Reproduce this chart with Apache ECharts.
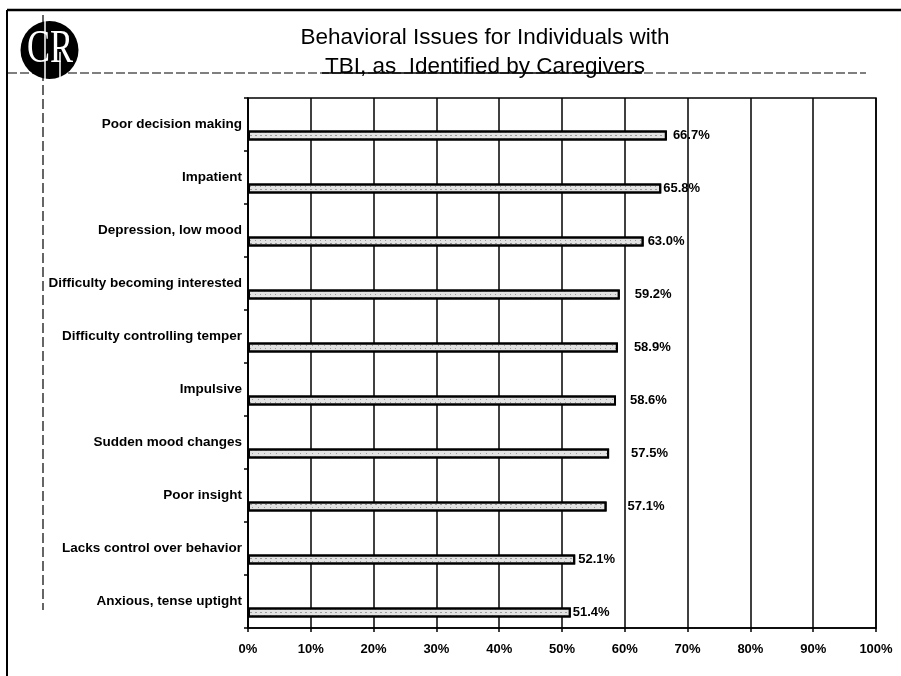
<!DOCTYPE html>
<html>
<head>
<meta charset="utf-8">
<title>Behavioral Issues for Individuals with TBI</title>
<script src="https://cdn.jsdelivr.net/npm/echarts@6/dist/echarts.min.js"></script>
<style>
  html, body { margin: 0; padding: 0; background: #ffffff; }
  #chart { width: 901px; height: 676px; }
</style>
</head>
<body>
<div id="chart"></div>
<script>
// Behaviours reported by caregivers, listed top to bottom
const categories = [
  'Poor decision making',
  'Impatient',
  'Depression, low mood',
  'Difficulty becoming interested',
  'Difficulty controlling temper',
  'Impulsive',
  'Sudden mood changes',
  'Poor insight',
  'Lacks control over behavior',
  'Anxious, tense uptight'
];

// Share of caregivers reporting each behaviour (%)
const percentages = [66.7, 65.8, 63.0, 59.2, 58.9, 58.6, 57.5, 57.1, 52.1, 51.4];

// Percentage scale shown along the bottom
const xMin = 0;
const xMax = 100;
const xStep = 10;

// Horizontal gap between each bar end and its value label (px)
const labelGap = [6, 2, 4, 15, 16, 14, 22, 21, 3, 2];

const FONT = '"Liberation Sans", Arial, Helvetica, sans-serif';
const SERIF = '"Liberation Serif", "DejaVu Serif", serif';

const chart = echarts.init(document.getElementById('chart'), null, { renderer: 'canvas' });

const option = {
  backgroundColor: '#ffffff',
  animation: false,
  title: {
    text: 'Behavioral Issues for Individuals with\nTBI, as  Identified by Caregivers',
    left: 480,
    top: 18,
    textAlign: 'center',
    textStyle: {
      fontFamily: FONT,
      fontWeight: 'normal',
      fontSize: 22.5,
      lineHeight: 29,
      color: '#000000'
    }
  },
  grid: {
    left: 248,
    right: 25,
    top: 98,
    bottom: 48,
    show: true,
    borderColor: '#000000',
    borderWidth: 1.5,
    backgroundColor: 'transparent'
  },
  xAxis: {
    type: 'value',
    min: xMin,
    max: xMax,
    interval: xStep,
    axisLine: { show: true, lineStyle: { color: '#000000', width: 1.5 } },
    axisTick: { show: true, length: 4, lineStyle: { color: '#000000', width: 1.5 } },
    splitLine: { show: true, lineStyle: { color: '#000000', width: 1.5 } },
    axisLabel: {
      margin: 15,
      formatter: '{value}%',
      fontFamily: FONT,
      fontWeight: 'bold',
      fontSize: 13,
      color: '#000000'
    }
  },
  yAxis: {
    type: 'category',
    inverse: true,
    data: categories,
    axisLine: { show: true, lineStyle: { color: '#000000', width: 1.5 } },
    axisTick: { show: true, length: 4, lineStyle: { color: '#000000', width: 1.5 } },
    splitLine: { show: false },
    axisLabel: {
      margin: 6,
      fontFamily: FONT,
      fontWeight: 'bold',
      fontSize: 13.5,
      color: '#000000'
    }
  },
  series: [
    {
      // empty slot that pushes each bar below its label
      type: 'bar',
      name: 'spacer',
      data: categories.map(() => 0),
      barWidth: 10,
      barGap: '120%',
      silent: true,
      itemStyle: { color: 'transparent' },
      label: { show: false }
    },
    {
      type: 'bar',
      name: 'Caregivers reporting',
      barWidth: 10,
      data: percentages.map((v, i) => ({ value: v, label: { distance: labelGap[i] } })),
      itemStyle: {
        color: '#e2e2e2',
        borderColor: '#000000',
        borderWidth: 2,
        // fine stipple inside each bar
        decal: {
          symbol: 'rect',
          symbolSize: 1,
          color: 'rgba(70, 70, 70, 0.45)',
          dashArrayX: [[1, 4], [2, 3], [1, 5]],
          dashArrayY: [1, 2],
          rotation: 0
        }
      },
      label: {
        show: true,
        position: 'right',
        formatter: (p) => p.value.toFixed(1) + '%',
        fontFamily: FONT,
        fontWeight: 'bold',
        fontSize: 13,
        color: '#000000'
      }
    }
  ],
  graphic: [
    // outer frame: top and left edges
    { type: 'line', shape: { x1: 7, y1: 10, x2: 901, y2: 10 }, style: { stroke: '#000', lineWidth: 2.5 }, silent: true },
    { type: 'line', shape: { x1: 7, y1: 10, x2: 7, y2: 676 }, style: { stroke: '#000', lineWidth: 2 }, silent: true },
    // dashed vertical rule through the logo
    { type: 'line', shape: { x1: 43, y1: 15, x2: 43, y2: 610 }, style: { stroke: '#000', lineWidth: 1.2, lineDash: [10, 4] }, silent: true },
    // dashed rule under the heading, solid beneath the second heading line
    { type: 'line', shape: { x1: 8, y1: 73, x2: 866, y2: 73 }, style: { stroke: '#000', lineWidth: 1.2, lineDash: [9, 3] }, silent: true },
    { type: 'line', shape: { x1: 322, y1: 73, x2: 642, y2: 73 }, style: { stroke: '#000', lineWidth: 1.5 }, silent: true },
    // logo
    { type: 'circle', shape: { cx: 49.5, cy: 50, r: 29 }, style: { fill: '#000' }, silent: true },
    { type: 'text', x: 27, y: 50, scaleX: 0.75, style: { text: 'CR', fill: '#fff', font: 'normal 46px ' + SERIF, verticalAlign: 'middle' }, silent: true },
    { type: 'line', shape: { x1: 45, y1: 21, x2: 45, y2: 79 }, style: { stroke: '#fff', lineWidth: 1.5 }, silent: true },
    { type: 'line', shape: { x1: 60, y1: 52, x2: 60, y2: 79 }, style: { stroke: '#fff', lineWidth: 1.5 }, silent: true }
  ]
};

chart.setOption(option);
</script>
</body>
</html>
